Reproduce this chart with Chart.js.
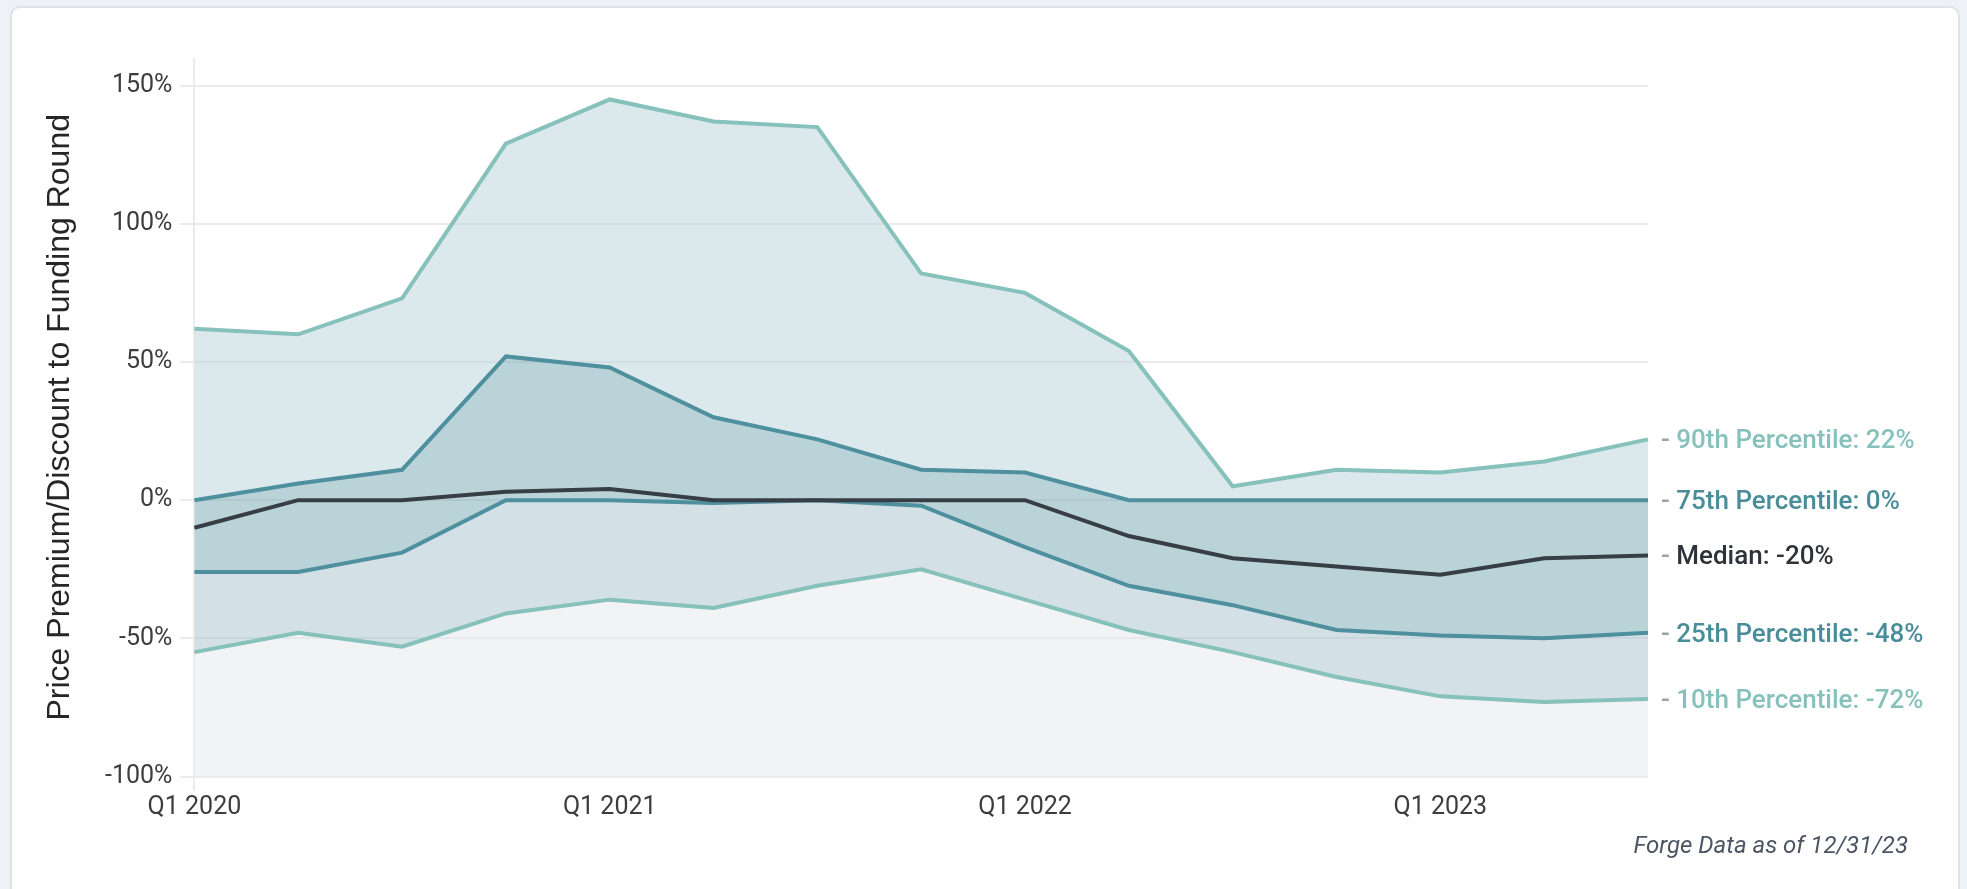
<!DOCTYPE html>
<html>
<head>
<meta charset="utf-8">
<title>Price Premium/Discount to Funding Round</title>
<script src="https://cdn.jsdelivr.net/npm/chart.js@4.4.1/dist/chart.umd.min.js"></script>
<style>
  html, body { margin: 0; padding: 0; }
  body {
    width: 1967px; height: 889px; overflow: hidden; position: relative;
    background: #eef1f5; font-family: Roboto, sans-serif;
  }
  .card {
    position: absolute; left: 10px; top: 6px; width: 1946px; height: 900px;
    background: #fff; border: 2px solid #dce3ea; border-radius: 10px;
  }
  #chart { position: absolute; left: 0; top: 0; }
  .source {
    position: absolute; right: 59px; top: 831px; line-height: 28px;
    font: italic 24px Roboto; color: #4b5563; white-space: nowrap;
  }
</style>
</head>
<body>
<div class="card"></div>
<canvas id="chart" width="1967" height="889"></canvas>
<div class="source">Forge Data as of 12/31/23</div>
<script>
// Data
const quarters = ['Q1 2020', 'Q2 2020', 'Q3 2020', 'Q4 2020', 'Q1 2021', 'Q2 2021', 'Q3 2021', 'Q4 2021',
  'Q1 2022', 'Q2 2022', 'Q3 2022', 'Q4 2022', 'Q1 2023', 'Q2 2023', 'Q3 2023'];
const p90 = [62, 60, 73, 129, 145, 137, 135, 82, 75, 54, 5, 11, 10, 14, 22];
const p75 = [0, 6, 11, 52, 48, 30, 22, 11, 10, 0, 0, 0, 0, 0, 0];
const median = [-10, 0, 0, 3, 4, 0, 0, 0, 0, -13, -21, -24, -27, -21, -20];
const p25 = [-26, -26, -19, 0, 0, -1, 0, -2, -17, -31, -38, -47, -49, -50, -48];
const p10 = [-55, -48, -53, -41, -36, -39, -31, -25, -36, -47, -55, -64, -71, -73, -72];
const yTicks = [-100, -50, 0, 50, 100, 150];

const LIGHT = '#86c1bb';
const MID = '#4e909d';
const DARK = '#383e46';
const GRID = '#ebebeb';
const TICK_TEXT = '#3d3d3d';

Chart.defaults.font.family = 'Roboto';

// Labels at the right end of each line
const endLabels = {
  id: 'endLabels',
  afterDatasetsDraw(chart) {
    const { ctx, chartArea, scales: { y } } = chart;
    ctx.save();
    ctx.font = '500 26px Roboto';
    ctx.textBaseline = 'alphabetic';
    chart.data.datasets.forEach(ds => {
      const last = ds.data[ds.data.length - 1];
      const py = y.getPixelForValue(last) + 9;
      let px = chartArea.right + 13;
      ctx.fillStyle = '#9ba1a7';
      ctx.fillText('- ', px, py);
      px += ctx.measureText('- ').width;
      ctx.fillStyle = ds.labelColor;
      ctx.fillText(`${ds.label}: ${last}%`, px, py);
    });
    ctx.restore();
  }
};

const line = (label, data, color, labelColor, fill, fillColor) => ({
  label,
  data,
  borderColor: color,
  borderWidth: 4,
  pointRadius: 0,
  tension: 0,
  fill,
  backgroundColor: fillColor,
  labelColor
});

new Chart(document.getElementById('chart'), {
  type: 'line',
  data: {
    labels: quarters,
    datasets: [
      line('90th Percentile', p90, LIGHT, '#86c1bb', '+1', 'rgba(183,209,217,0.5)'),
      line('75th Percentile', p75, MID, '#4a8d9a', 3, 'rgba(117,167,177,0.5)'),
      line('Median', median, DARK, '#2e333a', false, 'transparent'),
      line('25th Percentile', p25, MID, '#4a8d9a', '+1', 'rgba(167,193,203,0.5)'),
      line('10th Percentile', p10, LIGHT, '#86c1bb', 'start', 'rgba(227,231,235,0.5)')
    ]
  },
  options: {
    responsive: false,
    animation: false,
    layout: { padding: { left: 0, top: 58, right: 319, bottom: 0 } },
    plugins: {
      legend: { display: false },
      tooltip: { enabled: false },
      filler: { drawTime: 'beforeDatasetsDraw' }
    },
    scales: {
      x: {
        offset: false,
        border: { display: false },
        grid: {
          color: ctx => (quarters[ctx.index] || '').startsWith('Q1') ? GRID : 'rgba(0,0,0,0)',
          lineWidth: 2,
          tickLength: 14
        },
        ticks: {
          autoSkip: false,
          maxRotation: 0,
          padding: 2,
          color: TICK_TEXT,
          font: { size: 25 },
          callback(value) {
            const l = this.getLabelForValue(value);
            return l.startsWith('Q1') ? l : null;
          }
        },
        afterFit(scale) { scale.height = 112.5; }
      },
      y: {
        min: -100,
        max: 160,
        border: { display: false },
        grid: { color: GRID, lineWidth: 2, tickLength: 14 },
        ticks: {
          stepSize: 50,
          padding: 8,
          color: TICK_TEXT,
          font: { size: 25 },
          callback: v => v + '%'
        },
        afterBuildTicks(scale) {
          scale.ticks = yTicks.map(value => ({ value }));
        },
        afterFit(scale) { scale.width = 194.4; },
        title: {
          display: true,
          text: 'Price Premium/Discount to Funding Round',
          color: '#262626',
          font: { family: 'Liberation Sans', size: 32 },
          padding: { top: 41, bottom: 0 }
        }
      }
    }
  },
  plugins: [endLabels]
});
</script>
</body>
</html>
